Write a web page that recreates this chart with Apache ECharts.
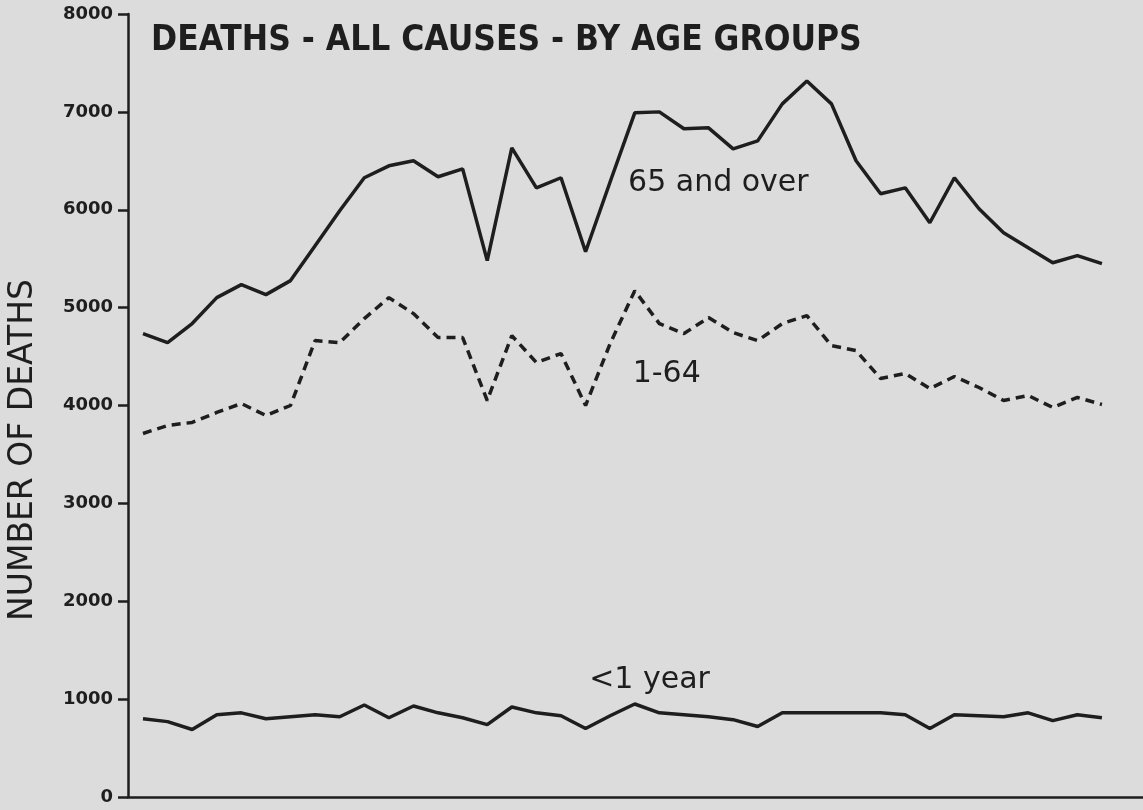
<!DOCTYPE html>
<html>
<head>
<meta charset="utf-8">
<title>Deaths - all causes - by age groups</title>
<script src="https://cdn.jsdelivr.net/npm/echarts@6/dist/echarts.min.js"></script>
<style>
  html, body { margin: 0; padding: 0; background: #dcdcdc; }
  #chart { width: 1143px; height: 810px; }
</style>
</head>
<body>
<div id="chart"></div>
<script>
// 40 periods (no x labels in the original)
const periods = [];
for (let i = 0; i < 40; i++) {
  periods.push(i + 1);
}

const over65 = [4735, 4643, 4837, 5102, 5235, 5133, 5276, 5633, 5990, 6327,
  6449, 6500, 6337, 6418, 5480, 6633, 6224, 6327, 5571, 6286,
  6990, 7000, 6827, 6837, 6622, 6704, 7082, 7316, 7082, 6500,
  6163, 6224, 5867, 6327, 6010, 5765, 5612, 5459, 5531, 5449];

const age1to64 = [3714, 3796, 3827, 3929, 4020, 3898, 4000, 4663, 4643, 4888,
  5102, 4939, 4694, 4694, 4051, 4714, 4439, 4531, 4000, 4633,
  5173, 4837, 4735, 4898, 4745, 4663, 4837, 4918, 4612, 4561,
  4276, 4327, 4173, 4296, 4184, 4051, 4102, 3980, 4082, 4010];

const under1 = [800, 770, 690, 840, 860, 800, 820, 840, 820, 940,
  810, 930, 860, 810, 740, 920, 860, 830, 700, 830,
  950, 860, 840, 820, 790, 720, 860, 860, 860, 860,
  860, 840, 700, 840, 830, 820, 860, 780, 840, 810];

const yTicks = [0, 1000, 2000, 3000, 4000, 5000, 6000, 7000, 8000];

const ink = '#1e1e1e';

function pairs(values) {
  return values.map((v, i) => [i, v]);
}

function label(text, coord) {
  return {
    data: [{ coord: coord }],
    symbolSize: 0,
    label: {
      show: true,
      formatter: text,
      color: ink,
      fontFamily: 'DejaVu Sans',
      fontSize: 30,
      position: 'inside'
    },
    silent: true
  };
}

const chart = echarts.init(document.getElementById('chart'));
chart.setOption({
  backgroundColor: '#dcdcdc',
  animation: false,
  grid: {
    left: 128,
    right: 0,
    top: 14,
    bottom: 13,
    outerBoundsMode: 'none'
  },
  graphic: [
    {
      type: 'text',
      left: 151,
      top: 23,
      style: {
        text: 'DEATHS - ALL CAUSES - BY AGE GROUPS',
        fill: ink,
        font: 'bold 35px "DejaVu Sans Condensed", "DejaVu Sans"'
      }
    },
    {
      type: 'text',
      x: 23,
      y: 450,
      rotation: Math.PI / 2,
      style: {
        text: 'NUMBER OF DEATHS',
        fill: ink,
        font: '33px "DejaVu Sans"',
        align: 'center',
        verticalAlign: 'middle'
      }
    }
  ],
  xAxis: {
    type: 'value',
    min: -0.61,
    max: 40.67,
    axisLine: { show: true, onZero: false, lineStyle: { color: ink, width: 2.5 } },
    axisTick: { show: false },
    axisLabel: { show: false },
    splitLine: { show: false }
  },
  yAxis: {
    type: 'value',
    min: 0,
    max: 8000,
    interval: 1000,
    axisLine: { show: true, onZero: false, lineStyle: { color: ink, width: 2.5 } },
    axisTick: { show: true, length: 10, lineStyle: { color: ink, width: 2.5 } },
    axisLabel: {
      margin: 15,
      color: ink,
      fontFamily: 'DejaVu Sans',
      fontWeight: 'bold',
      fontSize: 18,
      formatter: v => yTicks.indexOf(v) >= 0 ? String(v) : ''
    },
    splitLine: { show: false }
  },
  series: [
    {
      name: '65 and over',
      type: 'line',
      data: pairs(over65),
      symbol: 'none',
      lineStyle: { color: ink, width: 3.5 },
      markPoint: label('65 and over', [23.4, 6270])
    },
    {
      name: '1-64',
      type: 'line',
      data: pairs(age1to64),
      symbol: 'none',
      lineStyle: { color: ink, width: 3.5, type: [9, 6] },
      markPoint: label('1-64', [21.3, 4320])
    },
    {
      name: '<1 year',
      type: 'line',
      data: pairs(under1),
      symbol: 'none',
      lineStyle: { color: ink, width: 3.5 },
      markPoint: label('<1 year', [20.6, 1190])
    }
  ]
});
</script>
</body>
</html>
